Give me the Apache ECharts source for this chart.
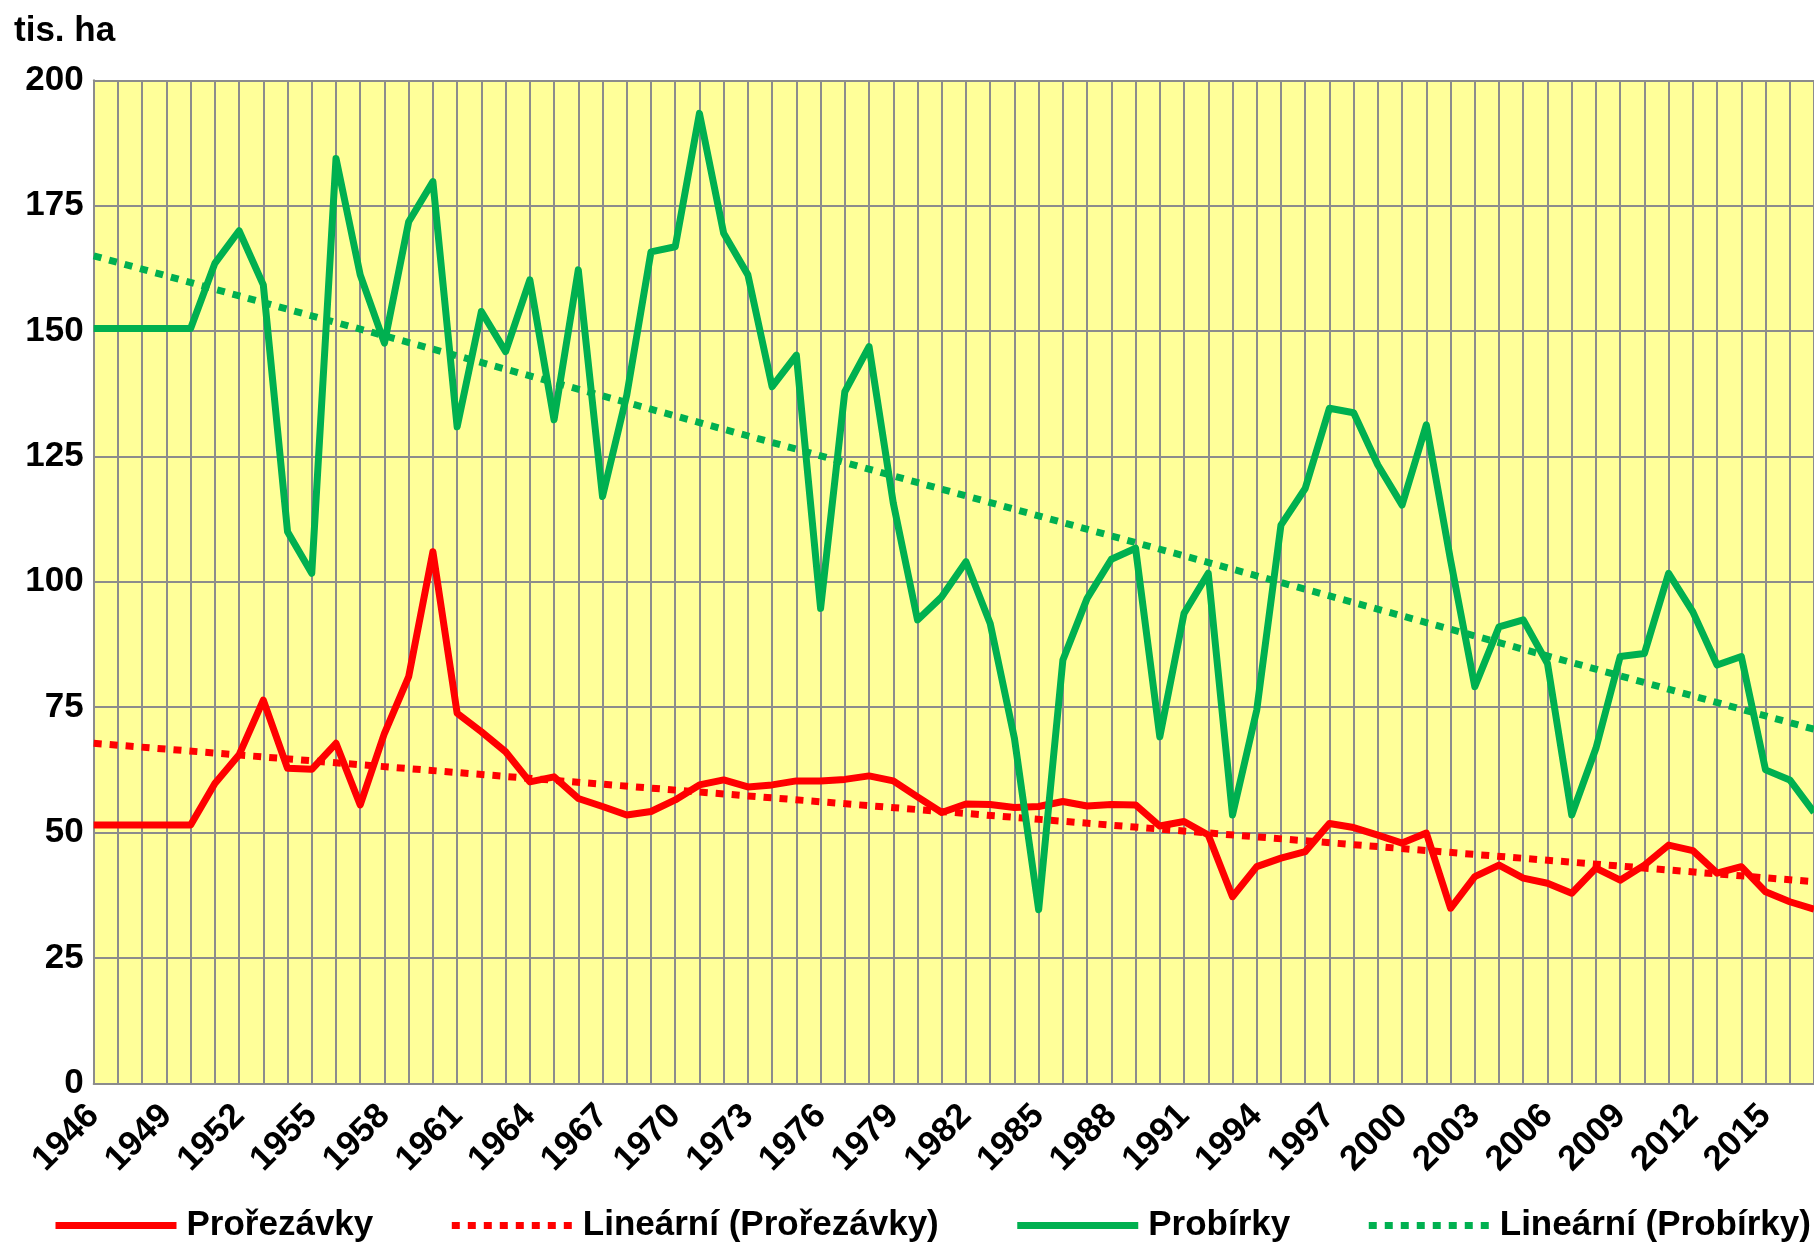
<!DOCTYPE html>
<html>
<head>
<meta charset="utf-8">
<script src="https://cdn.jsdelivr.net/npm/echarts@6/dist/echarts.min.js"></script>
<style>
html, body { margin: 0; padding: 0; background: #fff; }
#main { width: 1814px; height: 1248px; }
</style>
</head>
<body>
<div id="main"></div>
<script>
// roky (kategorie osy x)
var years = ['1946','1947','1948','1949','1950','1951','1952','1953','1954','1955',
    '1956','1957','1958','1959','1960','1961','1962','1963','1964','1965',
    '1966','1967','1968','1969','1970','1971','1972','1973','1974','1975',
    '1976','1977','1978','1979','1980','1981','1982','1983','1984','1985',
    '1986','1987','1988','1989','1990','1991','1992','1993','1994','1995',
    '1996','1997','1998','1999','2000','2001','2002','2003','2004','2005',
    '2006','2007','2008','2009','2010','2011','2012','2013','2014','2015',
    '2016','2017'];

// Prořezávky (tis. ha)
var prorezavky = [51.5, 51.5, 51.5, 51.5, 51.5, 59.8, 65.5, 76.4, 62.8, 62.6,
    67.8, 55.5, 69.8, 81.1, 106.0, 73.8, 70.1, 66.1, 60.1, 61.1,
    56.8, 55.2, 53.5, 54.2, 56.5, 59.5, 60.5, 59.1, 59.5, 60.3,
    60.3, 60.6, 61.3, 60.3, 57.1, 54.0, 55.7, 55.6, 55.0, 55.2,
    56.2, 55.3, 55.6, 55.5, 51.3, 52.2, 49.5, 37.2, 43.2, 44.9,
    46.2, 51.8, 51.0, 49.5, 47.9, 49.9, 34.9, 41.2, 43.5, 40.9,
    39.9, 37.9, 42.9, 40.5, 43.5, 47.5, 46.4, 41.9, 43.2, 38.2,
    36.2, 34.7];

// Probírky (tis. ha)
var probirky = [150.5, 150.5, 150.5, 150.5, 150.5, 163.5, 170.0, 159.2, 110.0, 101.7,
    184.4, 161.2, 147.6, 171.8, 179.8, 130.9, 153.9, 145.9, 160.2, 132.3,
    162.2, 117.0, 137.2, 165.8, 166.8, 193.4, 169.5, 161.2, 138.9, 145.2,
    94.7, 137.9, 146.9, 115.7, 92.4, 97.0, 104.0, 91.7, 68.8, 34.6,
    84.4, 96.7, 104.5, 106.7, 69.1, 93.7, 101.7, 53.5, 74.4, 111.3,
    118.6, 134.6, 133.7, 123.3, 115.3, 131.3, 104.3, 79.1, 91.0, 92.4,
    83.7, 53.5, 66.8, 85.1, 85.7, 101.7, 94.0, 83.4, 85.1, 62.5,
    60.5, 54.0];

// lineární trendy - hodnoty na začátku a konci
var trendProrezavky = [['1946', 67.8], ['2017', 40.2]];
var trendProbirky = [['1946', 165.0], ['2017', 70.6]];

var FONT = "'Liberation Sans', Arial, sans-serif";
var FONT_SIZE = 35;
var RED = '#ff0000';
var GREEN = '#00b050';
var GRID_COLOR = '#8c8c8c';

var myChart = echarts.init(document.getElementById('main'));

var option = {
    animation: false,
    backgroundColor: '#ffffff',
    title: {
        text: 'tis. ha',
        left: 9,
        top: 9,
        textStyle: { fontFamily: FONT, fontWeight: 'bold', fontSize: FONT_SIZE, color: '#000' }
    },
    legend: {
        top: 1208,
        left: 52,
        width: 1760,
        padding: 0,
        itemWidth: 121,
        itemHeight: 14,
        itemGap: 75,
        itemStyle: { opacity: 0 },
        lineStyle: { width: 7 },
        textStyle: { fontFamily: FONT, fontWeight: 'bold', fontSize: FONT_SIZE, color: '#000', padding: [0, 0, 0, 5] },
        data: ['Prořezávky', 'Lineární (Prořezávky)', 'Probírky', 'Lineární (Probírky)']
    },
    grid: {
        left: 93.7,
        top: 80.3,
        right: -4.3,
        bottom: 164.7,
        show: true,
        backgroundColor: '#ffff99',
        borderWidth: 0
    },
    xAxis: {
        type: 'category',
        data: years,
        boundaryGap: false,
        axisLine: { show: true, lineStyle: { color: GRID_COLOR, width: 2 } },
        axisTick: { show: false },
        splitLine: { show: true, interval: 0, lineStyle: { color: GRID_COLOR, width: 2 } },
        axisLabel: {
            interval: 2,
            rotate: 45,
            margin: 27,
            fontFamily: FONT,
            fontWeight: 'bold',
            fontSize: FONT_SIZE,
            color: '#000'
        }
    },
    yAxis: {
        type: 'value',
        min: 0,
        max: 200,
        interval: 25,
        axisLine: { show: true, lineStyle: { color: GRID_COLOR, width: 2 } },
        axisTick: { show: false },
        splitLine: { show: true, lineStyle: { color: GRID_COLOR, width: 2 } },
        axisLabel: {
            margin: 10,
            padding: [6, 0, 0, 0],
            fontFamily: FONT,
            fontWeight: 'bold',
            fontSize: FONT_SIZE,
            color: '#000'
        }
    },
    series: [
        {
            name: 'Prořezávky',
            type: 'line',
            symbol: 'none',
            data: prorezavky,
            itemStyle: { color: RED },
            lineStyle: { color: RED, width: 7, join: 'round' },
            z: 4
        },
        {
            name: 'Lineární (Prořezávky)',
            type: 'line',
            symbol: 'none',
            data: trendProrezavky,
            itemStyle: { color: RED },
            lineStyle: { color: RED, width: 7, type: [8, 8] },
            z: 3
        },
        {
            name: 'Probírky',
            type: 'line',
            symbol: 'none',
            data: probirky,
            itemStyle: { color: GREEN },
            lineStyle: { color: GREEN, width: 7, join: 'round' },
            z: 4
        },
        {
            name: 'Lineární (Probírky)',
            type: 'line',
            symbol: 'none',
            data: trendProbirky,
            itemStyle: { color: GREEN },
            lineStyle: { color: GREEN, width: 7, type: [8, 8] },
            z: 3
        }
    ]
};

myChart.setOption(option);
</script>
</body>
</html>
